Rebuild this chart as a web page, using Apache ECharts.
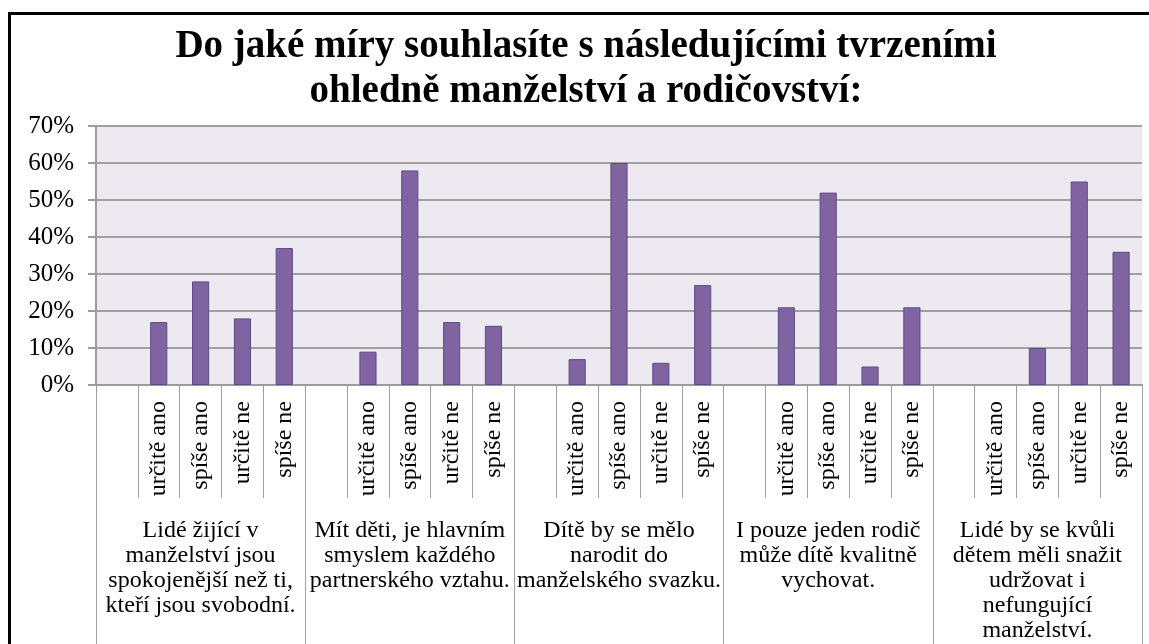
<!DOCTYPE html>
<html>
<head>
<meta charset="utf-8">
<script src="https://cdn.jsdelivr.net/npm/echarts@6/dist/echarts.min.js"></script>
<style>
html,body{margin:0;padding:0;background:#fff;}
#chart{width:1149px;height:644px;}
</style>
</head>
<body>
<div id="chart"></div>
<script>
// ---- data ----
const titleText = 'Do jaké míry souhlasíte s následujícími tvrzeními\nohledně manželství a rodičovství:';
const groupLabels = [
  'Lidé žijící v\nmanželství jsou\nspokojenější než ti,\nkteří jsou svobodní.',
  'Mít děti, je hlavním\nsmyslem každého\npartnerského vztahu.',
  'Dítě by se mělo\nnarodit do\nmanželského svazku.',
  'I pouze jeden rodič\nmůže dítě kvalitně\nvychovat.',
  'Lidé by se kvůli\ndětem měli snažit\nudržovat i\nnefungující\nmanželství.'
];
const answerLabels = ['', 'určitě ano', 'spíše ano', 'určitě ne', 'spíše ne'];
const group1 = [17, 28, 18, 37];
const group2 = [9, 58, 17, 16];
const group3 = [7, 60, 6, 27];
const group4 = [21, 52, 5, 21];
const group5 = [0, 10, 55, 36];
const yTicks = [0, 10, 20, 30, 40, 50, 60, 70];

// ---- build ----
const groupsValues = [group1, group2, group3, group4, group5];
const categories = [];
const barData = [];
groupsValues.forEach(g => {
  answerLabels.forEach(a => categories.push(a));
  barData.push(null);
  g.forEach(v => barData.push(v === 0 ? {value: v, itemStyle: {borderWidth: 0, opacity: 0}} : v));
});

const serif = 'Liberation Serif, DejaVu Serif, serif';
const chart = echarts.init(document.getElementById('chart'), null, {renderer: 'canvas'});
chart.setOption({
  animation: false,
  backgroundColor: '#ffffff',
  textStyle: {fontFamily: serif},
  title: {
    text: titleText,
    left: 581,
    top: 19,
    textAlign: 'center',
    textStyle: {fontFamily: serif, fontSize: 39, fontWeight: 'bold', color: '#000', lineHeight: 45}
  },
  graphic: [{
    type: 'rect',
    shape: {x: 9.5, y: 13.5, width: 1300, height: 800},
    style: {fill: 'none', stroke: '#000', lineWidth: 3},
    silent: true, z: 100
  }],
  grid: {left: 96, top: 126, right: 7, bottom: 259, containLabel: false,
    show: true, backgroundColor: '#ECEAF0', borderWidth: 0},
  xAxis: [{
    type: 'category',
    data: categories,
    position: 'bottom',
    boundaryGap: true,
    axisLine: {show: true, lineStyle: {color: '#9c9c9c', width: 2}},
    axisTick: {show: true, interval: 0, length: 113, lineStyle: {color: '#a0a0a0', width: 1}},
    axisLabel: {interval: 0, rotate: 90, margin: 16, padding: [9, 0, 0, 0], fontFamily: serif, fontSize: 24, color: '#000'},
    splitLine: {show: false}
  }, {
    type: 'category',
    data: groupLabels,
    position: 'bottom',
    offset: 0,
    boundaryGap: true,
    axisLine: {show: false},
    axisTick: {show: true, interval: 0, length: 270, lineStyle: {color: '#a0a0a0', width: 1}},
    axisLabel: {interval: 0, margin: 133, fontFamily: serif, fontSize: 24, lineHeight: 25, color: '#000', align: 'center'},
    splitLine: {show: false}
  }],
  yAxis: {
    type: 'value',
    min: yTicks[0],
    max: yTicks[yTicks.length - 1],
    interval: 10,
    axisLine: {show: true, lineStyle: {color: '#9c9c9c', width: 2}},
    axisTick: {show: true, length: 8, lineStyle: {color: '#9c9c9c', width: 2}},
    axisLabel: {formatter: '{value}%', margin: 22, fontFamily: serif, fontSize: 25, color: '#000'},
    splitLine: {show: true, lineStyle: {color: '#a0a0a0', width: 2}}
  },
  series: [{
    type: 'bar',
    data: barData,
    xAxisIndex: 0,
    barWidth: '41%',
    itemStyle: {color: '#8064A2', borderColor: '#5E4A86', borderWidth: 1}
  }]
});
</script>
</body>
</html>
